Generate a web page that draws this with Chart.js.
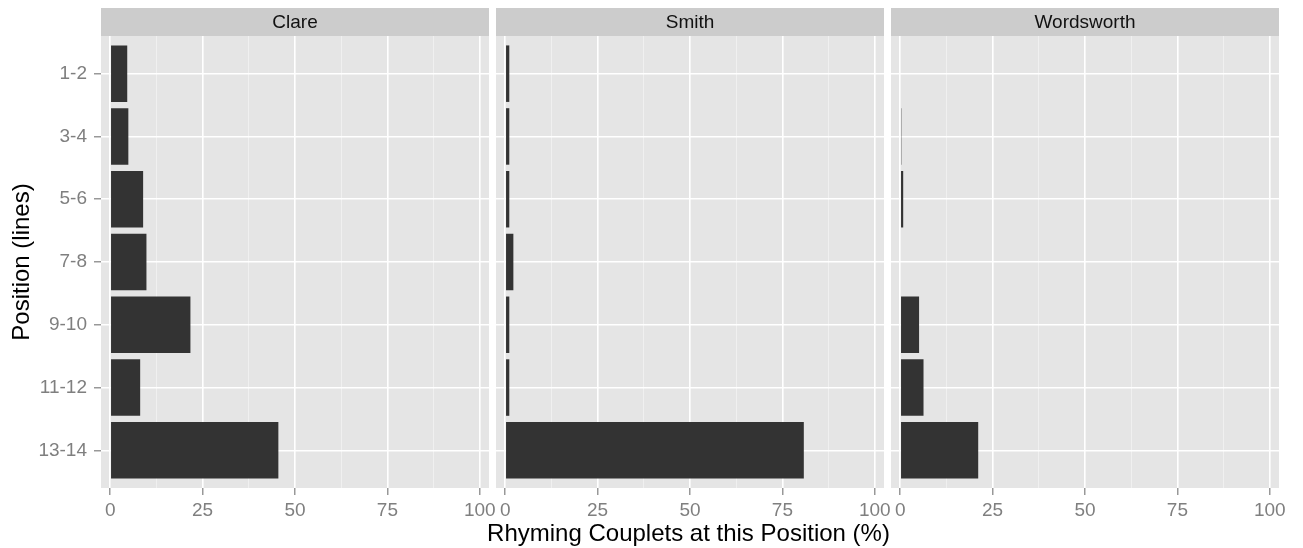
<!DOCTYPE html>
<html>
<head>
<meta charset="utf-8">
<script src="https://cdn.jsdelivr.net/npm/chart.js@4.4.1/dist/chart.umd.min.js"></script>
<style>
  body { margin: 0; background: #ffffff; }
  #wrap { position: relative; width: 1303px; height: 548px; overflow: hidden; }
  canvas { position: absolute; top: 0; }
  #xtitle {
    position: absolute; left: 0; top: 521px; width: 1377px;
    text-align: center; font: 24px "Liberation Sans", Arial, sans-serif;
    line-height: 24px; color: #000;
  }
</style>
</head>
<body>
<div id="wrap">
  <canvas id="clare" width="505" height="548" style="left:0px"></canvas>
  <canvas id="smith" width="420" height="548" style="left:480px"></canvas>
  <canvas id="wordsworth" width="420" height="548" style="left:875px"></canvas>
  <div id="xtitle">Rhyming Couplets at this Position (%)</div>
</div>
<script>
// positions of the rhyming couplets
const positions = ["1-2", "3-4", "5-6", "7-8", "9-10", "11-12", "13-14"];

// percentage of couplets at each position (null = no bar)
const clareValues = [4.6, 4.9, 8.9, 9.8, 21.7, 8.1, 45.5];
const smithValues = [1.1, 1.1, 1.1, 2.2, 1.1, 1.1, 80.8];
const wordsworthValues = [null, 0.3, 0.8, null, 5.1, 6.3, 21.1];

const xTicks = [0, 25, 50, 75, 100];

const FONT = "'Liberation Sans', Arial, sans-serif";

// grey panel + strip on top, like ggplot facets
const facetPlugin = {
  id: "facet",
  beforeDraw(chart, args, opts) {
    const ctx = chart.ctx;
    const a = chart.chartArea;
    ctx.save();
    ctx.fillStyle = "#E5E5E5";
    ctx.fillRect(a.left, a.top, a.right - a.left, a.bottom - a.top);
    ctx.fillStyle = "#CCCCCC";
    ctx.fillRect(a.left, 8, a.right - a.left, a.top - 8);
    ctx.fillStyle = "#111111";
    ctx.font = "19px " + FONT;
    ctx.textAlign = "center";
    ctx.textBaseline = "middle";
    ctx.fillText(opts.label, (a.left + a.right) / 2, (8 + a.top) / 2 + 1);
    ctx.restore();
  }
};

function makePanel(id, label, values, showY) {
  const data = [];
  values.forEach((v, i) => {
    if (v !== null) data.push({ x: v, y: i });
  });

  new Chart(document.getElementById(id), {
    type: "bar",
    data: {
      datasets: [{
        data: data,
        backgroundColor: "#333333",
        borderWidth: 0,
        inflateAmount: 0,
        barPercentage: 0.9,
        categoryPercentage: 1.0
      }]
    },
    options: {
      indexAxis: "y",
      responsive: false,
      animation: false,
      devicePixelRatio: 1,
      layout: {
        padding: { left: showY ? 0 : 16, right: 16, top: 36, bottom: 0 }
      },
      plugins: {
        legend: { display: false },
        tooltip: { enabled: false },
        facet: { label: label }
      },
      scales: {
        x: {
          type: "linear",
          min: -2.5,
          max: 102.5,
          border: { display: false },
          grid: {
            color: c => (c.tick && c.tick.value % 25 === 0) ? "#FFFFFF" : "#F2F2F2",
            lineWidth: c => (c.tick && c.tick.value % 25 === 0) ? 1.6 : 0.8,
            tickColor: c => (c.tick && c.tick.value % 25 === 0) ? "#7F7F7F" : "rgba(0,0,0,0)",
            tickLength: 7,
            tickWidth: 1.2
          },
          ticks: {
            stepSize: 12.5,
            includeBounds: false,
            autoSkip: false,
            maxRotation: 0,
            padding: 4,
            color: "#7F7F7F",
            font: { family: FONT, size: 19 },
            callback: v => xTicks.includes(v) ? String(v) : ""
          },
          afterFit: s => {
            s.height = 60;
            s.paddingLeft = 0; s.paddingRight = 0;
          }
        },
        y: {
          type: "linear",
          reverse: true,
          offset: false,
          min: -0.6,
          max: 6.6,
          border: { display: false },
          grid: {
            offset: false,
            color: "#FFFFFF",
            lineWidth: 1.6,
            drawTicks: showY,
            tickColor: "#7F7F7F",
            tickLength: 7,
            tickWidth: 1.2
          },
          ticks: {
            display: showY,
            stepSize: 1,
            includeBounds: false,
            padding: 7,
            color: "#7F7F7F",
            font: { family: FONT, size: 19 },
            callback: v => positions[v]
          },
          title: {
            display: showY,
            text: "Position (lines)",
            color: "#000000",
            font: { family: FONT, size: 24 },
            padding: { top: 8, bottom: 0 }
          },
          afterFit: s => {
            s.width = showY ? 101 : 0;
            s.paddingTop = 0; s.paddingBottom = 0;
          }
        }
      }
    },
    plugins: [facetPlugin]
  });
}

makePanel("clare", "Clare", clareValues, true);
makePanel("smith", "Smith", smithValues, false);
makePanel("wordsworth", "Wordsworth", wordsworthValues, false);
</script>
</body>
</html>
